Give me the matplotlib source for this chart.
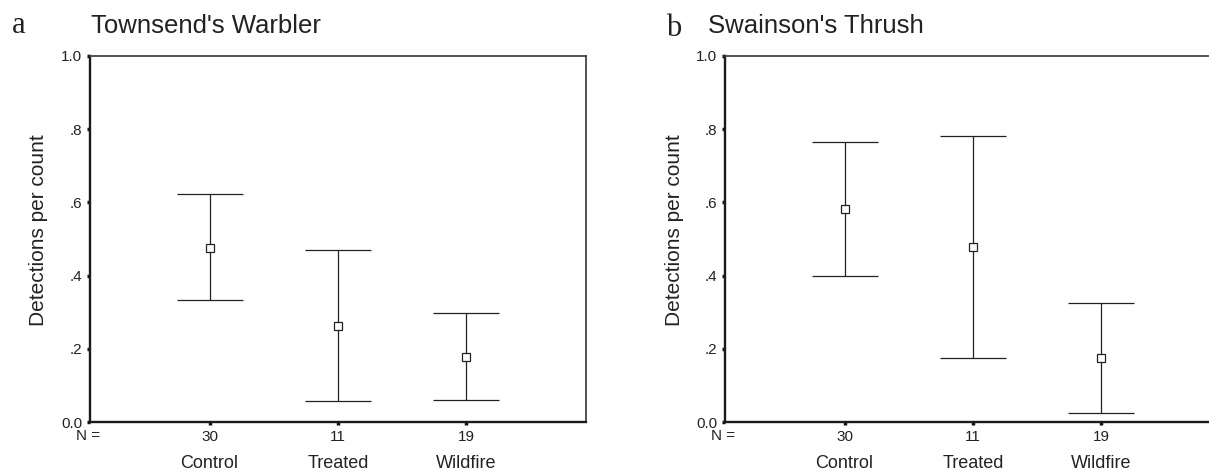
import matplotlib
matplotlib.use("Agg")
import matplotlib.pyplot as plt

plt.rcParams['font.family'] = ['Liberation Sans', 'DejaVu Sans']

categories = ["Control", "Treated", "Wildfire"]
n_values = ["30", "11", "19"]
yticks = [0.0, 0.2, 0.4, 0.6, 0.8, 1.0]
ytick_labels = ["0.0", ".2", ".4", ".6", ".8", "1.0"]

warbler_mean = [0.476, 0.263, 0.178]
warbler_low = [0.333, 0.057, 0.060]
warbler_high = [0.623, 0.469, 0.298]

thrush_mean = [0.582, 0.479, 0.174]
thrush_low = [0.398, 0.174, 0.025]
thrush_high = [0.766, 0.781, 0.326]

W, H = 1209, 472
fig = plt.figure(figsize=(W / 100, H / 100), dpi=100)

ax_w = 496 / W
ax_h = 366 / H
ax_b = 1 - 422 / H
ax_a = fig.add_axes([90 / W, ax_b, ax_w, ax_h])
ax_bb = fig.add_axes([725 / W, ax_b, ax_w, ax_h])


def draw(ax, mean, low, high):
    x = [1, 2, 3]
    yerr = [[m - l for m, l in zip(mean, low)], [h - m for m, h in zip(mean, high)]]
    ax.errorbar(x, mean, yerr=yerr, fmt='s', color='#222222', ecolor='#222222',
                elinewidth=0.9, capsize=23.5, capthick=0.9,
                markersize=6, markerfacecolor='white', markeredgecolor='#222222',
                markeredgewidth=0.9)
    ax.set_xlim(0.07, 3.93)
    ax.set_ylim(0, 1.0)
    ax.set_yticks(yticks)
    ax.set_yticklabels(ytick_labels)
    ax.set_xticks(x)
    ax.set_xticklabels(n_values)
    ax.tick_params(axis='both', direction='out', length=2.5, width=2.5,
                   color='#111111', labelsize=11, labelcolor='#222222', pad=3)
    for s in ['left', 'bottom']:
        ax.spines[s].set_linewidth(1.7)
        ax.spines[s].set_color('#1a1a1a')
    for s in ['top', 'right']:
        ax.spines[s].set_linewidth(1.3)
        ax.spines[s].set_color('#444444')
    for xi, c in zip(x, categories):
        ax.text(xi, -0.113, c, transform=ax.get_xaxis_transform(),
                ha='center', va='center', fontsize=13, color='#222222')
    ax.text(-0.004, -0.039, "N =", transform=ax.transAxes, ha='center',
            va='center', fontsize=11, color='#222222')


draw(ax_a, warbler_mean, warbler_low, warbler_high)
draw(ax_bb, thrush_mean, thrush_low, thrush_high)

# y labels
fig.text(39 / W, 1 - 230 / H, "Detections per count", rotation=90,
         ha='center', va='center', fontsize=15, color='#222222')
fig.text(674 / W, 1 - 230 / H, "Detections per count", rotation=90,
         ha='center', va='center', fontsize=15, color='#222222')

# panel letters and titles
fig.text(12 / W, 1 - 33 / H, "a", family=['Liberation Serif', 'DejaVu Serif'],
         fontsize=22, ha='left', va='baseline', color='#222222')
fig.text(91 / W, 1 - 33 / H, "Townsend's Warbler", fontsize=18.5,
         ha='left', va='baseline', color='#222222')
fig.text(666 / W, 1 - 36 / H, "b", family=['Liberation Serif', 'DejaVu Serif'],
         fontsize=22, ha='left', va='baseline', color='#222222')
fig.text(708 / W, 1 - 33 / H, "Swainson's Thrush", fontsize=18.5,
         ha='left', va='baseline', color='#222222')

fig.savefig("out.png", dpi=100)
